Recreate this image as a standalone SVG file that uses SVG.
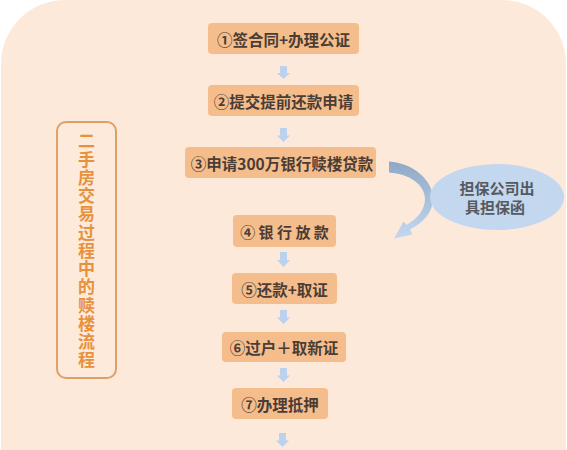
<svg xmlns="http://www.w3.org/2000/svg" xmlns:xlink="http://www.w3.org/1999/xlink" width="567" height="450" viewBox="0 0 567 450">
  <style>
    .box { fill: #f6bd8c; }
    .bt { font-family: "Noto Sans CJK SC", "Noto Sans", sans-serif; font-weight: 700; font-size: 15.5px; fill: #4a3d36; text-anchor: middle; dominant-baseline: central; }
    .lt { font-family: "Noto Sans CJK SC", "Noto Sans", sans-serif; font-weight: 700; font-size: 17px; fill: #e8913c; writing-mode: vertical-rl; letter-spacing: 1.25px; }
    .et { font-family: "Noto Sans CJK SC", "Noto Sans", sans-serif; font-weight: 700; font-size: 15px; fill: #555a60; text-anchor: middle; }
    .dn { fill: #bad2ee; }
  </style>
  <defs>
    <path id="dn" d="M -3.5 0 H 3.5 V 7.5 H 6.5 L 0 14 L -6.5 7.5 H -3.5 Z"/>
    <linearGradient id="rib" x1="0" y1="0" x2="0" y2="1">
      <stop offset="0" stop-color="#8ea8c6"/>
      <stop offset="1" stop-color="#c4d8f0"/>
    </linearGradient>
  </defs>
  <rect x="0" y="0" width="567" height="450" fill="#ffffff"/>
  <rect x="1" y="0" width="565" height="530" rx="64" ry="64" fill="#fde9da"/>

  <g id="label">
    <rect x="57" y="122" width="59" height="256" rx="9" ry="9" fill="#fdeadb" stroke="#dea067" stroke-width="2"/>
    <text class="lt" x="86.5" y="132.5">二手房交易过程中的赎楼流程</text>
  </g>

  <g id="connectors">
    <use xlink:href="#dn" href="#dn" class="dn" transform="translate(283.5,66) scale(1,0.93)"/>
    <use xlink:href="#dn" href="#dn" class="dn" transform="translate(283.5,128)"/>
    <use xlink:href="#dn" href="#dn" class="dn" transform="translate(283.5,252) scale(1,1.07)"/>
    <use xlink:href="#dn" href="#dn" class="dn" transform="translate(283.5,310)"/>
    <use xlink:href="#dn" href="#dn" class="dn" transform="translate(283.5,368)"/>
    <use xlink:href="#dn" href="#dn" class="dn" transform="translate(282.5,433)"/>
    <path fill="url(#rib)" d="M 389 161.5 C 413 163, 433 180, 433 199 C 433 212, 423 223, 410 229.5 L 412.5 234.5 L 394 238.5 L 403.5 221.5 L 406.5 225 C 417 219, 425 210, 425 199 C 425 185, 410 174, 389 172.5 Z"/>
  </g>

  <g id="step1">
    <rect class="box" x="208" y="23" width="151" height="31" rx="4"/>
    <text class="bt" x="283.5" y="38.5">①签合同+办理公证</text>
  </g>
  <g id="step2">
    <rect class="box" x="208" y="85" width="151" height="31" rx="4"/>
    <text class="bt" x="283.5" y="100.5">②提交提前还款申请</text>
  </g>
  <g id="step3">
    <rect class="box" x="185" y="147" width="191" height="31" rx="4"/>
    <text class="bt" x="282" y="162.5">③申请300万银行赎楼贷款</text>
  </g>
  <g id="guarantee">
    <ellipse cx="497" cy="197" rx="67" ry="33" fill="#c3d7ef"/>
    <text class="et" x="497" y="194"><tspan x="497" y="194">担保公司出</tspan><tspan x="495" y="213">具担保函</tspan></text>
  </g>
  <g id="step4">
    <rect class="box" x="233" y="215" width="103" height="32" rx="4"/>
    <text class="bt" x="284.5" y="231" style="font-size:15px">④ 银 行 放 款</text>
  </g>
  <g id="step5">
    <rect class="box" x="232" y="273" width="105" height="31" rx="4"/>
    <text class="bt" x="284.5" y="288.5">⑤还款+取证</text>
  </g>
  <g id="step6">
    <rect class="box" x="222" y="332" width="124" height="30" rx="4"/>
    <text class="bt" x="284" y="347">⑥过户＋取新证</text>
  </g>
  <g id="step7">
    <rect class="box" x="232" y="388" width="96" height="31" rx="4"/>
    <text class="bt" x="280" y="403.5">⑦办理抵押</text>
  </g>
</svg>
